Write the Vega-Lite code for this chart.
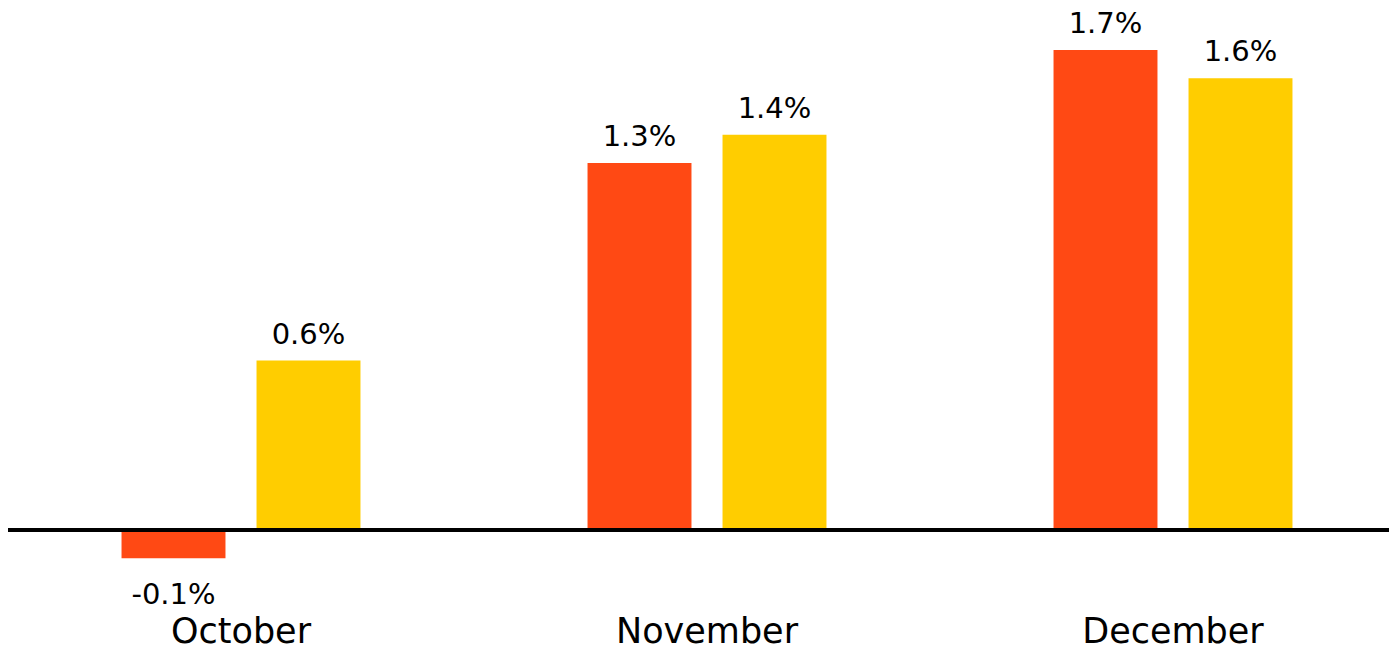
{
  "$schema": "https://vega.github.io/schema/vega-lite/v6.json",
  "width": 1398,
  "height": 600,
  "autosize": "none",
  "padding": {"left": 8, "top": 0, "right": 0, "bottom": 51},
  "background": "white",
  "config": {"view": {"stroke": null}, "font": "DejaVu Sans"},
  "data": {"values": [
    {"month": "October", "series": "Series 1", "value": -0.1, "label": "-0.1%"},
    {"month": "October", "series": "Series 2", "value": 0.6, "label": "0.6%"},
    {"month": "November", "series": "Series 1", "value": 1.3, "label": "1.3%"},
    {"month": "November", "series": "Series 2", "value": 1.4, "label": "1.4%"},
    {"month": "December", "series": "Series 1", "value": 1.7, "label": "1.7%"},
    {"month": "December", "series": "Series 2", "value": 1.6, "label": "1.6%"}
  ]},
  "encoding": {
    "x": {"field": "month", "type": "nominal", "sort": ["October", "November", "December"],
      "scale": {"paddingInner": 0, "paddingOuter": 0},
      "axis": {"title": null, "domain": false, "ticks": false, "labelAngle": 0, "labelFontSize": 35, "labelFont": "DejaVu Sans", "labelColor": "black", "labelPadding": 14, "labelBaseline": "top", "labelLimit": 0}},
    "xOffset": {"field": "series", "type": "nominal", "scale": {"paddingInner": 0.23, "paddingOuter": 0.841}}
  },
  "layer": [
    {
      "mark": {"type": "bar"},
      "encoding": {
        "y": {"field": "value", "type": "quantitative", "scale": {"domain": [-0.248, 1.877], "nice": false, "zero": false}, "axis": null},
        "color": {"field": "series", "type": "nominal", "scale": {"range": ["#FF4914", "#FFCD00"]}, "legend": null}
      }
    },
    {
      "transform": [{"filter": "datum.value >= 0"}],
      "mark": {"type": "text", "baseline": "alphabetic", "dy": -17, "fontSize": 29, "color": "black"},
      "encoding": {
        "y": {"field": "value", "type": "quantitative"},
        "text": {"field": "label"}
      }
    },
    {
      "transform": [{"filter": "datum.value < 0"}],
      "mark": {"type": "text", "baseline": "alphabetic", "dy": 46, "fontSize": 29, "color": "black"},
      "encoding": {
        "y": {"field": "value", "type": "quantitative"},
        "text": {"field": "label"}
      }
    },
    {
      "mark": {"type": "rule", "color": "black", "strokeWidth": 4},
      "encoding": {"y": {"datum": 0, "type": "quantitative"}, "x": {"value": 0}, "x2": {"value": 1398}, "xOffset": null}
    }
  ]
}
